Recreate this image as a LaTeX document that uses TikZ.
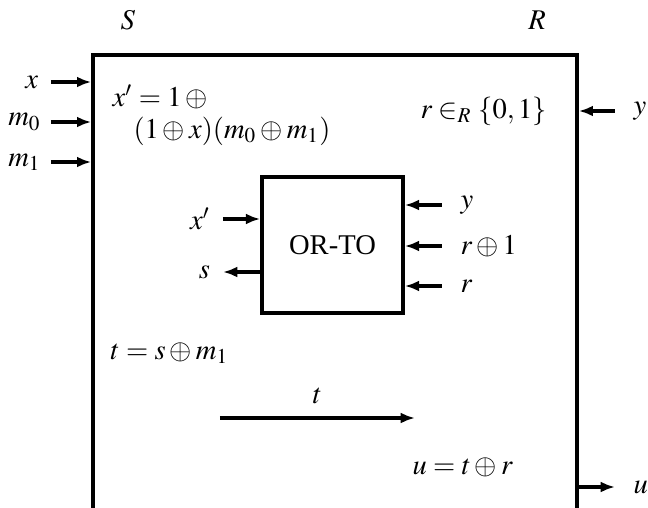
\documentclass[tikz,border=0pt]{standalone}
\usepackage{mathptmx}
\usepackage[no-math]{fontspec}
\setmainfont{Liberation Serif}
\usetikzlibrary{arrows.meta, positioning, fit}

\begin{document}
\begin{tikzpicture}[
		x=0.35pt, y=-0.35pt,
		party/.style={rectangle, draw=black, line width=1.2pt, inner sep=0pt},
		box/.style={rectangle, draw=black, line width=1.2pt, minimum width=49.4pt, minimum height=47.6pt, align=center},
		eq/.style={anchor=west, inner sep=0pt},
		arrow/.style={-{Latex[length=5pt,width=3.8pt]}, line width=1.2pt}
		]
		\useasboundingbox (0,0) rectangle (648,508);
		
		% the two parties, the lower edge runs off the page
		\node (S) at (128,20) {$S$};
		\node (R) at (537,20) {$R$};
		\node[party, fit={(93,55) (577,540)}] (both) {};
		
		% inputs
		\coordinate (ax) at (51,82);
		\coordinate (amz) at (51,122);
		\coordinate (amo) at (51,162);
		\coordinate (ay) at (615,111);
		\node[left=1pt of ax] (inx) {$x$};
		\node[left=0pt of amz] (inmz) {$m_0$};
		\node[left=0pt of amo] (inmo) {$m_1$};
		\node[right=3pt of ay] (iny) {$y$};
		\draw[arrow] (ax) -- (ax -| both.west);
		\draw[arrow] (amz) -- (amz -| both.west);
		\draw[arrow] (amo) -- (amo -| both.west);
		\draw[arrow] (ay) -- (ay -| both.east);
		
		\node[eq] (xdef) at (112,97) {$x' = 1 \oplus{}$};
		\node[eq] (xdef2) at (133,131) {$(1 \oplus x)(m_0 \oplus m_1)$};
		\node[eq] (rdef) at (420,111) {$r \in_R \{0, 1\}$};
		
		% the OR-TO box
		\node[box] (orto) at (332.5,245) {OR-TO};
		\coordinate (axp) at (223,219);
		\coordinate (as) at (223,272);
		\coordinate (ary) at (442,205);
		\coordinate (arx) at (442,246);
		\coordinate (arr) at (442,286);
		\node[left=1pt of axp] (inxp) {$x'$};
		\node[left=1pt of as] (outs) {$s$};
		\node[right=3pt of ary] (inry) {$y$};
		\node[right=3pt of arx] (inrx) {$r \oplus 1$};
		\node[right=3pt of arr] (inrr) {$r$};
		\draw[arrow] (axp) -- (axp -| orto.west);
		\draw[arrow] (as -| orto.west) -- (as);
		\draw[arrow] (ary) -- (ary -| orto.east);
		\draw[arrow] (arx) -- (arx -| orto.east);
		\draw[arrow] (arr) -- (arr -| orto.east);
		
		\node[eq] (tdef) at (110,353) {$t = s \oplus m_1$};
		\coordinate (ts) at (220,418);
		\coordinate (te) at (415,418);
		\draw[arrow] (ts) -- node[above=1pt] (tlab) {$t$} (te);
		
		\node[eq] (udef) at (412,467) {$u = t \oplus r$};
		\coordinate (au) at (615,487);
		\node[right=3pt of au] (outu) {$u$};
		\draw[arrow] (au -| both.east) -- (au);
		
	\end{tikzpicture}
\end{document}
